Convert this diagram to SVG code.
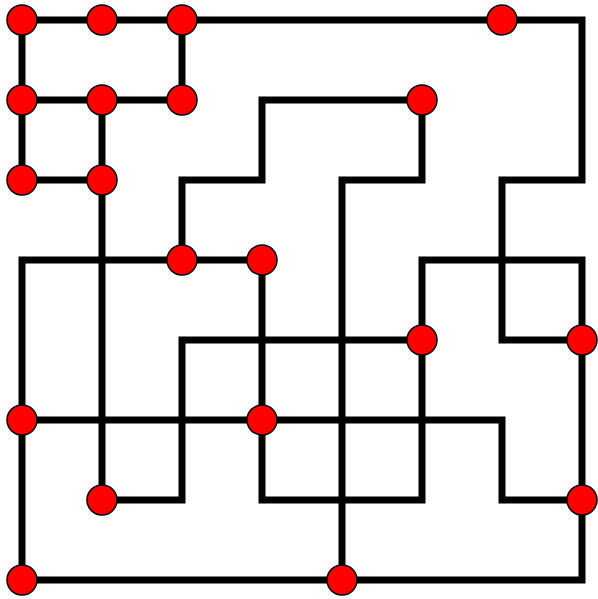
<svg xmlns="http://www.w3.org/2000/svg" width="598" height="599" viewBox="0 0 598 599">
<style>
.e{fill:none;stroke:#000;stroke-width:7;stroke-linejoin:miter;stroke-linecap:butt}
.n{fill:#ff0000;stroke:#000;stroke-width:1.5}
</style>
<rect width="598" height="599" fill="#fff"/>
<g id="edges">
<path class="e" d="M22,20 H182"/>
<path class="e" d="M182,20 H502"/>
<path class="e" d="M502,20 H582 V180 H502 V340 H582"/>
<path class="e" d="M182,20 V100"/>
<path class="e" d="M22,20 V180"/>
<path class="e" d="M22,100 H182"/>
<path class="e" d="M102,100 V180"/>
<path class="e" d="M22,180 H102"/>
<path class="e" d="M102,180 V500"/>
<path class="e" d="M102,500 H182 V340 H422"/>
<path class="e" d="M422,100 H262 V180 H182 V260"/>
<path class="e" d="M422,100 V180 H342 V580"/>
<path class="e" d="M182,260 H262"/>
<path class="e" d="M182,260 H22 V420"/>
<path class="e" d="M262,260 V420"/>
<path class="e" d="M22,420 H262"/>
<path class="e" d="M262,420 H502 V500 H582"/>
<path class="e" d="M262,420 V500 H422 V340"/>
<path class="e" d="M422,340 V260 H582 V340"/>
<path class="e" d="M582,340 V500"/>
<path class="e" d="M342,580 H582 V500"/>
<path class="e" d="M22,420 V580 H342"/>
</g>
<g id="n1"><circle class="n" cx="22" cy="20" r="15"/></g>
<g id="n2"><circle class="n" cx="102" cy="20" r="15"/></g>
<g id="n3"><circle class="n" cx="182" cy="20" r="15"/></g>
<g id="n4"><circle class="n" cx="502" cy="20" r="15"/></g>
<g id="n5"><circle class="n" cx="22" cy="100" r="15"/></g>
<g id="n6"><circle class="n" cx="102" cy="100" r="15"/></g>
<g id="n7"><circle class="n" cx="182" cy="100" r="15"/></g>
<g id="n8"><circle class="n" cx="422" cy="100" r="15"/></g>
<g id="n9"><circle class="n" cx="22" cy="180" r="15"/></g>
<g id="n10"><circle class="n" cx="102" cy="180" r="15"/></g>
<g id="n11"><circle class="n" cx="182" cy="260" r="15"/></g>
<g id="n12"><circle class="n" cx="262" cy="260" r="15"/></g>
<g id="n13"><circle class="n" cx="422" cy="340" r="15"/></g>
<g id="n14"><circle class="n" cx="582" cy="340" r="15"/></g>
<g id="n15"><circle class="n" cx="22" cy="420" r="15"/></g>
<g id="n16"><circle class="n" cx="262" cy="420" r="15"/></g>
<g id="n17"><circle class="n" cx="102" cy="500" r="15"/></g>
<g id="n18"><circle class="n" cx="582" cy="500" r="15"/></g>
<g id="n19"><circle class="n" cx="22" cy="580" r="15"/></g>
<g id="n20"><circle class="n" cx="342" cy="580" r="15"/></g>
</svg>
